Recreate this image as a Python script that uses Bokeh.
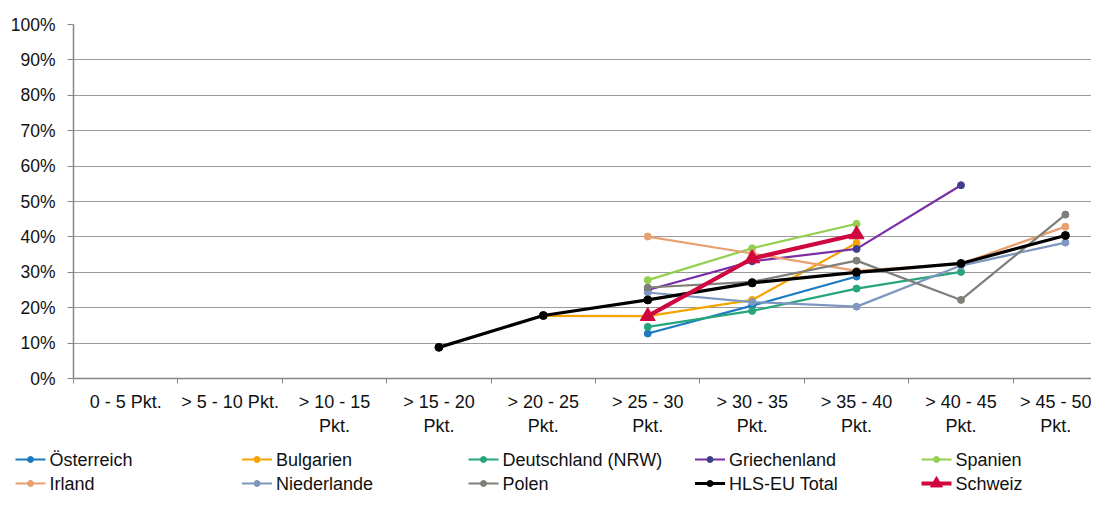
import numpy as np
from bokeh.plotting import figure
from bokeh.layouts import column
from bokeh.models import Range1d, FixedTicker, PrintfTickFormatter
from bokeh.core.properties import value
from bokeh.embed import file_html
from bokeh.resources import INLINE

nan = np.nan

categories = ["0 - 5 Pkt.", "> 5 - 10 Pkt.", "> 10 - 15 Pkt.", "> 15 - 20 Pkt.",
              "> 20 - 25 Pkt.", "> 25 - 30 Pkt.", "> 30 - 35 Pkt.", "> 35 - 40 Pkt.",
              "> 40 - 45 Pkt.", "> 45 - 50 Pkt."]
tick_labels = ["0 - 5 Pkt.", "> 5 - 10 Pkt.", "> 10 - 15\nPkt.", "> 15 - 20\nPkt.",
               "> 20 - 25\nPkt.", "> 25 - 30\nPkt.", "> 30 - 35\nPkt.", "> 35 - 40\nPkt.",
               "> 40 - 45\nPkt.", "> 45 - 50\nPkt."]
y_ticks = [0, 10, 20, 30, 40, 50, 60, 70, 80, 90, 100]

# values in percent
oesterreich  = [nan, nan, nan, nan, nan, 12.7, 20.6, 28.8, nan, nan]
bulgarien    = [nan, nan, nan, nan, 17.7, 17.6, 22.2, 38.3, nan, nan]
deutschland  = [nan, nan, nan, nan, nan, 14.6, 19.1, 25.4, 30.1, nan]
griechenland = [nan, nan, nan, nan, nan, 25.0, 33.1, 36.6, 54.6, nan]
spanien      = [nan, nan, nan, nan, nan, 27.8, 36.8, 43.7, nan, nan]
irland       = [nan, nan, nan, nan, nan, 40.1, 35.3, 30.4, 32.4, 42.9]
niederlande  = [nan, nan, nan, nan, nan, 24.3, 21.6, 20.3, 31.9, 38.4]
polen        = [nan, nan, nan, nan, nan, 25.7, 27.3, 33.3, 22.2, 46.3]
hls_total    = [nan, nan, nan, 8.8, 17.8, 22.2, 27.0, 30.0, 32.5, 40.4]
schweiz      = [nan, nan, nan, nan, nan, 17.6, 33.9, 40.7, nan, nan]

names = ["Österreich", "Bulgarien", "Deutschland (NRW)", "Griechenland", "Spanien",
         "Irland", "Niederlande", "Polen", "HLS-EU Total", "Schweiz"]
values = [oesterreich, bulgarien, deutschland, griechenland, spanien,
          irland, niederlande, polen, hls_total, schweiz]
line_colors = ["#1C7BC0", "#F5A300", "#27A57C", "#7A2FA8", "#92D050",
               "#E9A070", "#7D97C0", "#7E7F78", "#000000", "#D0063F"]
marker_colors = ["#1C7BC0", "#F5A300", "#27A57C", "#3E3F86", "#92D050",
                 "#E9A070", "#7D97C0", "#7E7F78", "#000000", "#D0063F"]
line_widths = [2.2, 2.2, 2.2, 2.2, 2.2, 2.2, 2.2, 2.2, 3.2, 4.2]
markers = ["circle"] * 9 + ["triangle"]
marker_sizes = [7, 7, 7, 7, 7, 7, 7, 7, 8, 15]
legend_marker_sizes = [6, 6, 6, 6, 6, 6, 6, 6, 6, 12]
legend_line_widths = [2.2, 2.2, 2.2, 2.2, 2.2, 2.2, 2.2, 2.2, 3.0, 4.0]

FONT = "Liberation Sans"
x = np.arange(1, len(categories) + 1)

W = 1091
p = figure(width=W, height=438, output_backend="svg", toolbar_location=None,
           x_range=Range1d(0.5, 10.25), y_range=Range1d(0, 100),
           min_border_left=73, min_border_right=0, min_border_top=24, min_border_bottom=57)
p.frame_align = False
p.outline_line_color = None
p.background_fill_color = "white"
p.border_fill_color = "white"

# axes
p.xaxis.ticker = FixedTicker(ticks=list(x), minor_ticks=[i + 0.5 for i in range(0, 11)])
p.xaxis.major_label_overrides = {int(i): t for i, t in zip(x, tick_labels)}
p.xaxis.major_tick_out = 0
p.xaxis.major_tick_in = 0
p.xaxis.minor_tick_out = 5
p.xaxis.minor_tick_in = 0
p.xaxis.minor_tick_line_color = "#868686"
p.xaxis.axis_line_color = "#868686"
p.xaxis.axis_line_width = 1.5
p.xaxis.major_label_text_font = FONT
p.xaxis.major_label_text_font_size = "18px"
p.xaxis.major_label_text_color = "#111111"
p.xaxis.major_label_standoff = 8

p.yaxis.ticker = FixedTicker(ticks=y_ticks)
p.yaxis.formatter = PrintfTickFormatter(format="%d%%")
p.yaxis.major_tick_out = 6
p.yaxis.major_tick_in = 0
p.yaxis.minor_tick_out = 0
p.yaxis.minor_tick_in = 0
p.yaxis.major_tick_line_color = "#868686"
p.yaxis.axis_line_color = "#868686"
p.yaxis.axis_line_width = 1.5
p.yaxis.major_label_text_font = FONT
p.yaxis.major_label_text_font_size = "17.5px"
p.yaxis.major_label_text_color = "#111111"
p.yaxis.major_label_standoff = 12

p.xgrid.grid_line_color = None
p.ygrid.ticker = FixedTicker(ticks=y_ticks[1:])
p.ygrid.grid_line_color = "#9a9a9a"
p.ygrid.grid_line_width = 1

for i in range(len(names)):
    ys = np.array(values[i], dtype=float)
    p.line(x, ys, line_color=line_colors[i], line_width=line_widths[i])
    p.scatter(x, ys, marker=markers[i], size=marker_sizes[i],
              fill_color=marker_colors[i], line_color=marker_colors[i])

# legend strip (pixel coordinates, y measured from top of the strip)
LH = 57
lg = figure(width=W, height=LH, output_backend="svg", toolbar_location=None,
            x_range=Range1d(0, W), y_range=Range1d(LH, 0),
            x_axis_type=None, y_axis_type=None,
            min_border_left=0, min_border_right=0, min_border_top=0, min_border_bottom=0)
lg.frame_align = False
lg.outline_line_color = None
lg.xgrid.grid_line_color = None
lg.ygrid.grid_line_color = None
lg.background_fill_color = "white"
lg.border_fill_color = "white"

col_x0, col_step = 15, 226.5
row_y = [21, 45]
for k, name in enumerate(names):
    c, r = k % 5, k // 5
    x0 = col_x0 + c * col_step
    yy = row_y[r]
    lg.line([x0, x0 + 30], [yy, yy], line_color=line_colors[k], line_width=legend_line_widths[k])
    lg.scatter([x0 + 15], [yy], marker=markers[k], size=legend_marker_sizes[k],
               fill_color=marker_colors[k], line_color=marker_colors[k])
    lg.text([x0 + 34], [yy], text=[name], text_font=value(FONT), text_font_size="18px",
            text_baseline="middle", text_align="left", text_color="#111111")

layout = column(p, lg, spacing=0)
open("out.html", "w").write(file_html(layout, INLINE))
